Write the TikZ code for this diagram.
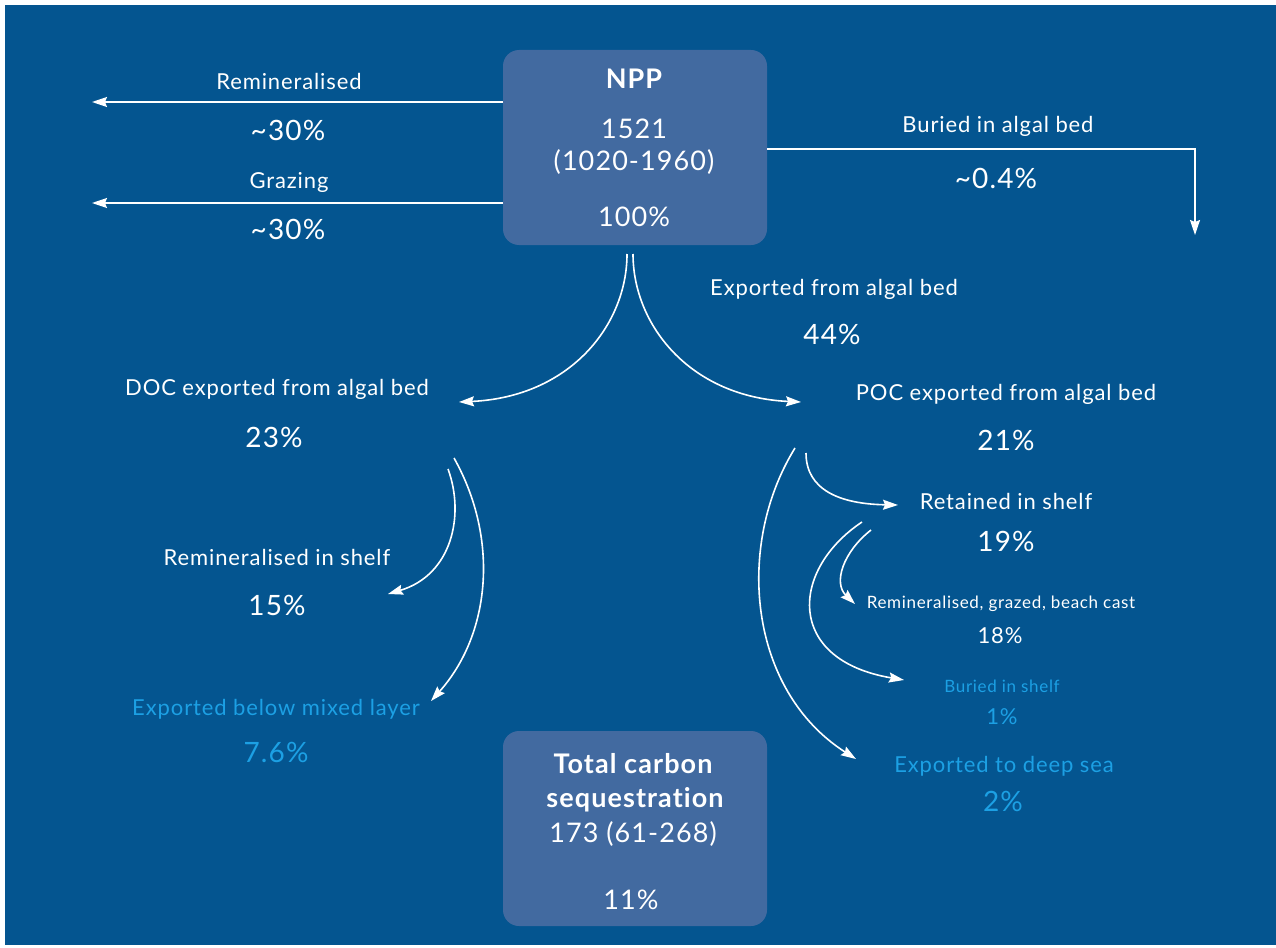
\documentclass[tikz,border=0pt]{standalone}
\usepackage{fontspec}
\setmainfont{Lato}[LetterSpace=4,Ligatures={NoCommon,NoRare}]
\usetikzlibrary{arrows.meta}
\definecolor{bgblue}{RGB}{4,85,144}
\definecolor{boxblue}{RGB}{66,106,160}
\definecolor{seqcyan}{RGB}{28,160,228}
\tikzset{
  lbl/.style={text=white,inner sep=0pt,anchor=center,font=\fontsize{22}{26}\selectfont},
  pct/.style={text=white,inner sep=0pt,anchor=center,font=\fontsize{28}{32}\selectfont},
  slbl/.style={text=white,inner sep=0pt,anchor=center,font=\fontsize{17}{20}\selectfont},
  spct/.style={text=white,inner sep=0pt,anchor=center,font=\fontsize{22}{24}\selectfont},
  cy/.style={text=seqcyan},
  bigbox/.style={fill=boxblue,rounded corners=16pt,minimum width=264pt,minimum height=195pt,inner sep=0pt},
  boxtxt/.style={text=white,inner sep=0pt,anchor=center,font=\fontsize{27}{30}\selectfont},
  flow/.style={draw=white,line width=1.6pt,-{Stealth[length=15pt,width=10pt,inset=2pt]}},
}
\begin{document}
\begin{tikzpicture}[x=1pt,y=-1pt]
\useasboundingbox (0,0) rectangle (1276,947);
\fill[bgblue] (5,5) rectangle (1276,945);

% boxes
\node[bigbox] (npp) at (635,147.5) {};
\node[boxtxt,font=\fontsize{27}{30}\selectfont\bfseries] (nppt) at (634,79) {NPP};
\node[boxtxt] (nppv) at (634,129) {1521};
\node[boxtxt] (nppr) at (634,162) {(1020-1960)};
\node[boxtxt] (nppp) at (634,217) {100\%};

\node[bigbox] (tot) at (635,828.5) {};
\node[boxtxt,font=\fontsize{27}{30}\selectfont\bfseries] (tott1) at (633,764) {Total carbon};
\node[boxtxt,font=\fontsize{27}{30}\selectfont\bfseries] (tott2) at (635,800) {sequestration};
\node[boxtxt] (totv) at (633,834) {173 (61-268)};
\node[boxtxt] (totp) at (631,900) {11\%};

% top-left flows
\coordinate (remS) at (503,102);
\coordinate (remE) at (92,102);
\coordinate (grzS) at (503,203);
\coordinate (grzE) at (92,203);
\draw[flow] (remS) -- (remE);
\draw[flow] (grzS) -- (grzE);
\node[lbl] (remL) at (289,81) {Remineralised};
\node[pct] (remP) at (288,130) {\textasciitilde 30\%};
\node[lbl] (grzL) at (289,182) {Grazing};
\node[pct] (grzP) at (288,229) {\textasciitilde 30\%};

% buried in algal bed
\coordinate (burS) at (767,149);
\coordinate (burC) at (1195,149);
\coordinate (burE) at (1195,235);
\draw[flow] (burS) -- (burC) -- (burE);
\node[lbl] (burL) at (998,126) {Buried in algal bed};
\node[pct] (burP) at (996,178) {\textasciitilde 0.4\%};

% split from NPP
\coordinate (splL) at (627,254);
\coordinate (splR) at (633,254);
\coordinate (docE) at (459,402);
\coordinate (pocE) at (801,402);
\draw[flow] (splL) .. controls (627,325) and (570,397) .. (docE);
\draw[flow] (splR) .. controls (633,325) and (690,397) .. (pocE);
\node[lbl] (expL) at (834,289) {Exported from algal bed};
\node[pct] (expP) at (832,334) {44\%};

\node[lbl] (docL) at (277,389) {DOC exported from algal bed};
\node[pct] (docP) at (274,437) {23\%};
\node[lbl] (pocL) at (1006,394) {POC exported from algal bed};
\node[pct] (pocP) at (1006,440) {21\%};

% DOC branches
\coordinate (d1S) at (448,469);
\coordinate (d1E) at (388,594);
\coordinate (d2S) at (454,458);
\coordinate (d2E) at (431,701);
\draw[flow] (d1S) .. controls (465,515) and (452,575) .. (d1E);
\draw[flow] (d2S) .. controls (500,540) and (490,635) .. (d2E);
\node[lbl] (rsL) at (277,557) {Remineralised in shelf};
\node[pct] (rsP) at (277,605) {15\%};
\node[lbl,cy] (ebL) at (276,709) {Exported below mixed layer};
\node[pct,cy] (ebP) at (276,752) {7.6\%};

% POC branches
\coordinate (p1S) at (806,453);
\coordinate (p1E) at (898,505);
\coordinate (p2S) at (795,448);
\coordinate (p2E) at (856,759);
\draw[flow] (p1S) .. controls (806,490) and (840,504) .. (p1E);
\draw[flow] (p2S) .. controls (735,545) and (748,690) .. (p2E);
\node[lbl] (retL) at (1006,501) {Retained in shelf};
\node[pct] (retP) at (1006,541) {19\%};

% retained branches
\coordinate (r1S) at (871,530);
\coordinate (r1E) at (855,604);
\coordinate (r2S) at (862,522);
\coordinate (r2E) at (904,680);
\draw[flow] (r1S) .. controls (843,552) and (833,583) .. (r1E);
\draw[flow] (r2S) .. controls (790,570) and (785,660) .. (r2E);
\node[slbl] (rgL) at (1001,604) {Remineralised, grazed, beach cast};
\node[spct] (rgP) at (1000,636) {18\%};
\node[slbl,cy] (bsL) at (1002,686) {Buried in shelf};
\node[spct,cy] (bsP) at (1002,717) {1\%};
\node[lbl,cy] (dsL) at (1004,766) {Exported to deep sea};
\node[pct,cy] (dsP) at (1003,801) {2\%};
\end{tikzpicture}
\end{document}
